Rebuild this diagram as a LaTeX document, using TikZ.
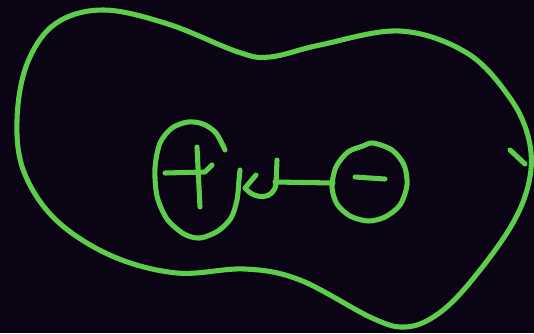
\documentclass[tikz,border=0pt]{standalone}
\definecolor{board}{RGB}{10,4,20}
\definecolor{chalk}{RGB}{92,206,76}
\tikzset{pen/.style={draw=chalk, line width=3.8pt, line cap=round, line join=round}}
\begin{document}
\begin{tikzpicture}[x=0.75pt, y=-0.75pt]
    \fill[board] (0,0) rectangle (534,333);
    \useasboundingbox (0,0) rectangle (534,333);

    % outer closed loop
    \draw[pen] plot[smooth cycle, tension=0.6] coordinates {
        (103,10) (168,24) (238,52) (270,57) (320,45) (400,31)
        (467,53) (510,98) (529,140) (529,182) (510,228) (467,286)
        (435,316) (405,327) (372,318) (300,280) (245,269) (177,273)
        (112,256) (56,220) (24,172) (17,120) (27,64) (55,24)};
    \draw[pen] (510,150) -- (525,164);

    % positive charge
    \draw[pen] plot[smooth] coordinates {
        (225,150) (216,133) (203,124) (188,122) (172,128) (160,143)
        (155,168) (157,196) (167,219) (184,234) (200,238) (218,231)
        (231,218) (237,200) (239,180) (240,170)};
    \draw[pen] (165,173) -- (205,172) -- (212,165);
    \draw[pen] (197,147) -- (200,207);

    % link between the charges
    \coordinate (link) at (275,182);
    \coordinate (neg west) at (333,183);
    \draw[pen] (256,175) -- (245,188) .. controls (256,201) and (274,199) .. (276,184) -- (277,160);
    \draw[pen] (link) -- (neg west);

    % negative charge
    \draw[pen] plot[smooth cycle] coordinates {
        (373,143) (392,150) (404,165) (407,185) (400,205) (385,217)
        (368,221) (350,216) (337,204) (332,187) (336,167) (348,152)
        (363,146)};
    \draw[pen] (355,177) -- (385,179);
\end{tikzpicture}
\end{document}
